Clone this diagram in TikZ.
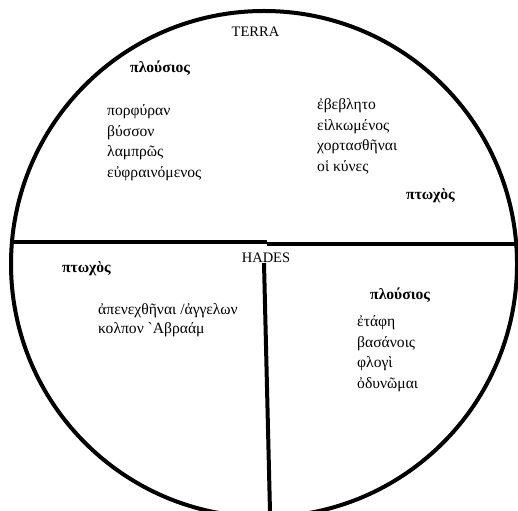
\documentclass[tikz,border=0pt]{standalone}
\usepackage{fontspec}
\setmainfont{Liberation Serif}
\begin{document}
\begin{tikzpicture}[x=1pt,y=-1pt,
  txt/.style={anchor=base west,inner sep=0pt,font=\fontsize{15.6}{20.5}\selectfont},
  hd/.style={anchor=base west,inner sep=0pt,font=\fontsize{15.6}{20.5}\selectfont\bfseries},
  lbl/.style={anchor=base,inner sep=0pt,font=\fontsize{14.5}{20.5}\selectfont},
  thick line/.style={line width=4pt}]
\useasboundingbox (0,0) rectangle (518,510);
\clip (0,0) rectangle (518,510);
\draw[thick line] (264,264) circle (253);
% dividing lines
\coordinate (hl) at (12,241.5);
\coordinate (hm1) at (267,241.5);
\coordinate (hm2) at (267,244);
\coordinate (hr) at (518,244);
\draw[thick line] (hl) -- (hm1);
\draw[thick line] (hm2) -- (hr);
\coordinate (vt) at (264,263);
\coordinate (vb) at (270,512);
\draw[thick line] (vt) -- (vb);
% labels
\node[lbl] (terra) at (255.5,37) {TERRA};
\node[lbl] (hades) at (266,262) {HADES};
% TERRA left
\node[hd] (p1) at (130,73) {πλούσιος};
\node[txt] (t1) at (107,116) {πορφύραν};
\node[txt] (t2) at (107,136.5) {βύσσον};
\node[txt] (t3) at (107,157) {λαμπρῶς};
\node[txt] (t4) at (107,177.5) {εὐφραινόμενος};
% TERRA right
\node[txt] (r1) at (317,110) {ἐβεβλητο};
\node[txt] (r2) at (317,130.5) {εἱλκωμένος};
\node[txt] (r3) at (317,151) {χορτασθῆναι};
\node[txt] (r4) at (317,171.5) {οἱ κύνες};
\node[hd] (pt1) at (406,200) {πτωχὸς};
% HADES left
\node[hd] (pt2) at (62,272) {πτωχὸς};
\node[txt] (l1) at (98,314) {ἀπενεχθῆναι /ἀγγελων};
\node[txt] (l2) at (98,333) {κολπον \textasciigrave Αβραάμ};
% HADES right
\node[hd] (p2) at (370,299) {πλούσιος};
\node[txt] (b1) at (357,326) {ἐτάφη};
\node[txt] (b2) at (357,347) {βασάνοις};
\node[txt] (b3) at (357,367.5) {φλογὶ};
\node[txt] (b4) at (357,388) {ὀδυνῶμαι};
\end{tikzpicture}
\end{document}
